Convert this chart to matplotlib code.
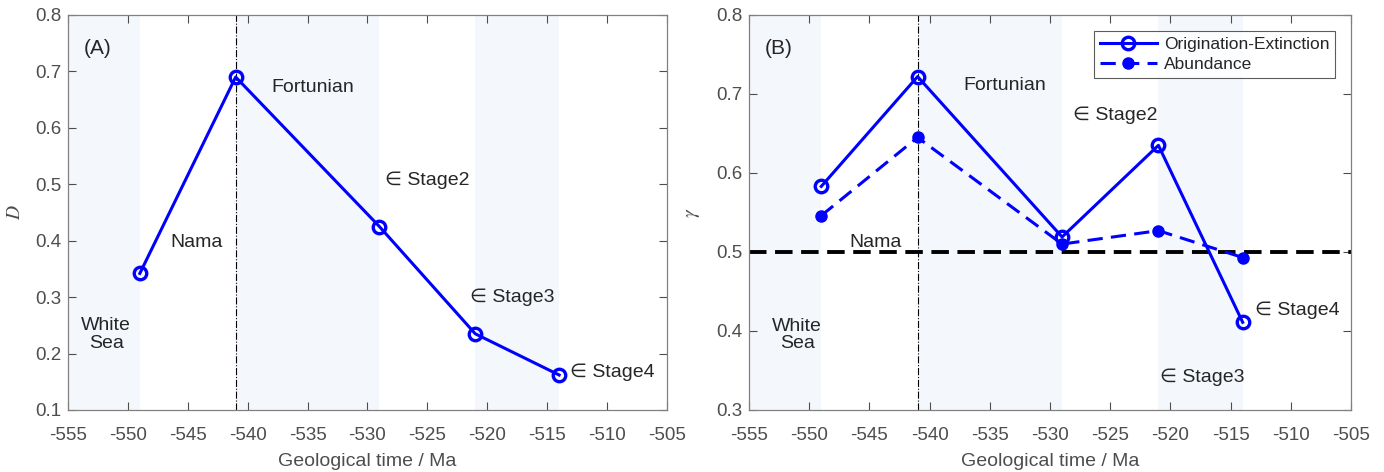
import matplotlib
matplotlib.use("Agg")
import matplotlib.pyplot as plt

plt.rcParams['font.family'] = ['Liberation Sans', 'DejaVu Sans']
plt.rcParams['mathtext.fontset'] = 'stix'

# data
time_a = [-549, -541, -529, -521, -514]
D_vals = [0.342, 0.690, 0.425, 0.235, 0.162]
time_b = [-549, -541, -529, -521, -514]
gamma_oe = [0.583, 0.722, 0.519, 0.635, 0.411]
gamma_ab = [0.546, 0.645, 0.510, 0.527, 0.493]
shade_spans = [(-555, -549), (-541, -529), (-521, -514)]
boundary = -541
xticks = list(range(-555, -504, 5))

blue = (0, 0, 1)
shade = '#f4f7fc'
gray = '#4d4d4d'
txtc = '#262626'

fig = plt.figure(figsize=(13.84, 4.72), dpi=100)
axA = fig.add_axes([0.0491, 0.1314, 0.4328, 0.8369])
axB = fig.add_axes([0.5412, 0.1314, 0.4350, 0.8369])

for ax in (axA, axB):
    for a, b in shade_spans:
        ax.axvspan(a, b, color=shade, lw=0, zorder=0)
    ax.axvline(boundary, color='k', ls='-.', lw=0.8, zorder=1)
    ax.set_xlim(-555, -505)
    ax.set_xticks(xticks)
    ax.set_xticklabels([str(t) for t in xticks])
    ax.tick_params(direction='in', top=True, right=True, labelsize=13.5,
                   colors=gray, length=6, width=0.8)
    ax.tick_params(axis='x', pad=12)
    ax.tick_params(axis='y', pad=5)
    for s in ax.spines.values():
        s.set_color('#808080')
        s.set_linewidth(0.9)
    ax.set_xlabel('Geological time / Ma', fontsize=14, color=gray, labelpad=7)

tk = dict(fontsize=14, color=txtc)

# Panel A
axA.plot(time_a, D_vals, '-o', color=blue, lw=2.2, ms=9, mfc='none', mew=2.4, zorder=3)
axA.set_ylim(0.1, 0.8)
axA.set_yticks([0.1, 0.2, 0.3, 0.4, 0.5, 0.6, 0.7, 0.8])
axA.set_yticklabels(['0.1', '0.2', '0.3', '0.4', '0.5', '0.6', '0.7', '0.8'])
axA.set_ylabel('$D$', fontsize=14, color=gray, labelpad=8)
axA.text(-553.7, 0.741, '(A)', fontsize=15, color=txtc, ha='left', va='center')
axA.text(-534.6, 0.671, 'Fortunian', ha='center', va='center', **tk)
axA.text(-528.5, 0.507, '\u2208 Stage2', ha='left', va='center', **tk)
axA.text(-544.3, 0.397, 'Nama', ha='center', va='center', **tk)
axA.text(-521.4, 0.300, '\u2208 Stage3', ha='left', va='center', **tk)
axA.text(-513.1, 0.167, '\u2208 Stage4', ha='left', va='center', **tk)
axA.text(-551.8, 0.234, 'White\nSea', ha='center', va='center', linespacing=1.05, **tk)

# Panel B
axB.axhline(0.5, color='k', ls=(0, (4.5, 2.2)), lw=2.8, zorder=2)
axB.plot(time_b, gamma_oe, '-o', color=blue, lw=2.2, ms=9, mfc='none', mew=2.4,
         zorder=4, label='Origination-Extinction')
axB.plot(time_b, gamma_ab, '--o', color=blue, lw=2.2, ms=8, mfc=blue, mew=1,
         zorder=3, label='Abundance', dashes=(5, 2.7))
axB.set_ylim(0.3, 0.8)
axB.set_yticks([0.3, 0.4, 0.5, 0.6, 0.7, 0.8])
axB.set_yticklabels(['0.3', '0.4', '0.5', '0.6', '0.7', '0.8'])
axB.set_ylabel('$\\gamma$', fontsize=14, color=gray, labelpad=10)
axB.text(-553.7, 0.758, '(B)', fontsize=15, color=txtc, ha='left', va='center')
axB.text(-533.8, 0.711, 'Fortunian', ha='center', va='center', **tk)
axB.text(-528.1, 0.673, '\u2208 Stage2', ha='left', va='center', **tk)
axB.text(-544.5, 0.512, 'Nama', ha='center', va='center', **tk)
axB.text(-551.0, 0.395, 'White\nSea', ha='center', va='center', linespacing=1.05, **tk)
axB.text(-513.0, 0.426, '\u2208 Stage4', ha='left', va='center', **tk)
axB.text(-520.9, 0.342, '\u2208 Stage3', ha='left', va='center', **tk)
leg = axB.legend(loc='upper right', fontsize=12.5, frameon=True, fancybox=False,
                 edgecolor='#333333', borderpad=0.35, handlelength=3.3,
                 handletextpad=0.4, labelspacing=0.3, borderaxespad=0.9)
leg.get_frame().set_linewidth(0.8)
for t in leg.get_texts():
    t.set_color(txtc)

fig.savefig('out.png', dpi=100)
